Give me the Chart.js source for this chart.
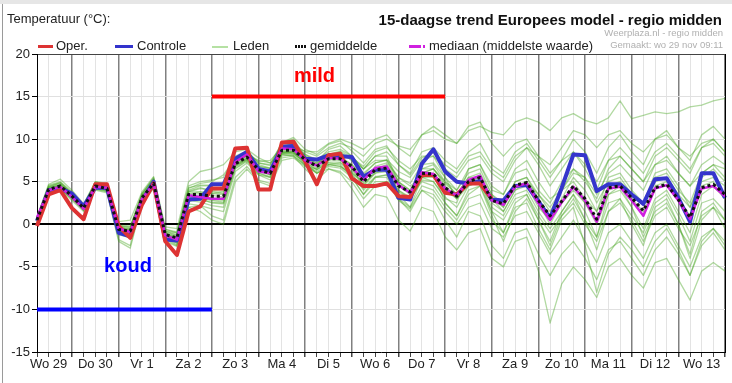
<!DOCTYPE html>
<html lang="nl">
<head>
<meta charset="UTF-8">
<title>15-daagse trend Europees model - regio midden</title>
<script src="https://cdn.jsdelivr.net/npm/chart.js"></script>
<style>
    body { margin: 0; background: #fff; font-family: "Liberation Sans", Arial, sans-serif; }
    .kader { position: relative; width: 732px; height: 383px; overflow: hidden; }
    .balk { position: absolute; left: 0; top: 0; width: 732px; height: 4px; background: #e6e6e6; }
    .rand { position: absolute; left: 2px; top: 4px; width: 1px; height: 379px; background: #9a9a9a; }
    #grafiek { position: absolute; left: 0; top: 0; }
    .txt { position: absolute; white-space: nowrap; color: #222; }
    .titelLinks { left: 7px; top: 11px; font-size: 13px; line-height: 16px; }
    .titel { right: 10px; top: 11px; font-size: 15px; line-height: 18px; font-weight: bold; color: #111; }
    .bron { right: 9px; font-size: 9.5px; line-height: 12px; color: #b0b0b0; }
    .leg { top: 38px; font-size: 13px; line-height: 16px; }
    .lijn { position: absolute; top: 45px; height: 3px; }
</style>
</head>
<body>
<div class="kader">
    <div class="balk"></div>
    <div class="rand"></div>
    <canvas id="grafiek" width="732" height="383"></canvas>

    <div class="txt titelLinks">Temperatuur (°C):</div>
    <div class="txt titel">15-daagse trend Europees model - regio midden</div>
    <div class="txt bron" style="top:27px">Weerplaza.nl - regio midden</div>
    <div class="txt bron" style="top:39px">Gemaakt: wo 29 nov 09:11</div>

    <div class="lijn" style="left:38px;width:15px;background:#dd3333"></div>
    <div class="txt leg" style="left:56px">Oper.</div>
    <div class="lijn" style="left:115px;width:18px;background:#3333cc"></div>
    <div class="txt leg" style="left:137px">Controle</div>
    <div class="lijn" style="left:212px;width:16px;top:46px;height:1.5px;background:#b5e1a3"></div>
    <div class="txt leg" style="left:233px">Leden</div>
    <div class="lijn" style="left:295px;width:11px;background:repeating-linear-gradient(90deg,#111 0 2px,transparent 2px 3px)"></div>
    <div class="txt leg" style="left:310px">gemiddelde</div>
    <div class="lijn" style="left:409px;width:12px;background:#d020e0"></div>
    <div class="lijn" style="left:423px;width:2px;background:#d020e0"></div>
    <div class="txt leg" style="left:429px">mediaan (middelste waarde)</div>
</div>

<script>
    // dagen (label op 12 uur), punten elke 6 uur vanaf wo 29 06:00
    const dagLabels = ['Wo 29', 'Do 30', 'Vr 1', 'Za 2', 'Zo 3', 'Ma 4', 'Di 5', 'Wo 6',
                       'Do 7', 'Vr 8', 'Za 9', 'Zo 10', 'Ma 11', 'Di 12', 'Wo 13']
    const aantalPunten = 60

    const oper = [-0.2, 3.5, 4.0,
        1.9, 0.6, 4.7, 4.7,
        -0.2, -1.6, 2.3, 4.8,
        -2.0, -3.6, 1.5, 2.1,
        4.2, 4.2, 8.9, 9.0,
        4.1, 4.1, 9.6, 9.7,
        7.4, 4.7, 8.1, 8.3,
        5.4, 4.5, 4.5, 4.8,
        3.3, 3.2, 5.8, 5.8,
        3.7, 3.5, 4.8, 4.8,
        3.0]

    const controle = [0.4, 4.0, 4.2,
        3.6, 2.1, 4.3, 4.3,
        -1.0, -1.4, 2.7, 5.0,
        -1.8, -1.9, 2.9, 3.0,
        4.7, 4.7, 7.7, 8.5,
        6.5, 6.2, 9.1, 9.2,
        7.7, 7.6, 8.1, 8.0,
        7.9, 5.6, 6.4, 6.4,
        3.1, 2.9, 7.1, 8.8,
        6.2, 5.0, 4.8, 5.1,
        2.9, 2.8, 4.5, 4.6,
        2.7, 0.7, 4.3, 8.2,
        8.1, 3.9, 4.7, 4.7,
        3.5, 2.4, 5.3, 5.4,
        3.1, 0.3, 6.0, 6.0,
        3.1]

    const gemiddelde = [0.5, 4.1, 4.5,
        3.3, 1.9, 4.5, 4.2,
        -0.6, -0.8, 3.1, 4.8,
        -1.2, -1.6, 3.5, 3.5,
        3.3, 3.3, 7.1, 7.9,
        6.4, 6.0, 8.7, 8.7,
        7.6, 6.8, 7.7, 7.7,
        6.8, 5.0, 6.4, 6.6,
        4.5, 3.8, 6.0, 5.9,
        4.3, 3.3, 5.0, 5.5,
        2.8, 2.4, 4.6, 4.9,
        2.8, 1.0, 2.7, 4.5,
        3.0, 0.6, 4.3, 4.5,
        3.1, 1.6, 4.3, 4.7,
        2.9, 0.8, 4.3, 4.7,
        3.5]

    const mediaan = [0.8, 4.0, 4.4,
        3.2, 1.8, 4.4, 4.3,
        -0.5, -0.9, 3.0, 4.7,
        -1.3, -1.8, 3.4, 3.2,
        3.0, 3.0, 7.3, 8.2,
        6.2, 6.0, 8.9, 8.8,
        7.5, 6.9, 7.8, 7.7,
        6.7, 5.2, 6.6, 6.8,
        4.6, 3.7, 6.1, 5.9,
        4.2, 3.4, 5.2, 5.7,
        2.8, 2.3, 4.4, 4.8,
        2.5, 0.5, 2.6, 4.4,
        2.8, 0.3, 4.2, 4.4,
        2.8, 1.0, 4.2, 4.6,
        2.8, 0.6, 4.2, 4.5,
        3.3]

    const leden = [
        [0.8, 4.6, 5.0, 3.8, 2.2, 5.0, 4.6, -0.2, -0.4, 3.6, 5.4, -0.6, -1.0, 4.5, 5.0,
         5.2, 5.5, 8.0, 8.6, 7.2, 7.0, 9.3, 9.4, 8.5, 8.0, 9.0, 9.5, 9.0, 8.0, 9.5, 10.0,
         9.2, 8.8, 10.5, 11.0, 10.0, 9.5, 11.0, 11.5, 10.8, 10.5, 12.0, 12.5, 12.0, 11.0, 12.5, 13.0,
         12.2, 11.8, 12.5, 14.5, 12.4, 12.8, 13.2, 13.0, 13.2, 13.8, 14.0, 14.5, 14.8],
        [0.2, 3.6, 4.0, 2.8, 1.5, 4.0, 3.7, -2.0, -2.8, 2.5, 4.2, -2.0, -2.6, 2.0, 2.2,
         1.0, 0.5, 5.5, 6.8, 5.2, 4.8, 7.8, 8.0, 6.5, 5.2, 6.5, 6.0, 4.2, 2.0, 3.5, 3.2,
         0.5, -0.8, 2.0, 1.5, -1.5, -3.0, -1.0, -0.5, -4.0, -5.0, -2.0, -1.5, -5.5, -11.6, -7.0, -5.0,
         -6.5, -8.6, -5.0, -4.0, -6.0, -7.5, -4.5, -4.0, -6.5, -8.9, -5.5, -4.5, -5.5],
        [0.6, 4.4, 4.8, 3.6, 2.0, 4.8, 4.5, -0.3, -0.5, 3.4, 5.2, -0.8, -1.2, 4.0, 4.5,
         4.5, 4.8, 7.6, 8.4, 7.0, 6.6, 9.2, 9.4, 8.2, 7.4, 8.8, 9.2, 8.0, 6.5, 8.0, 8.5,
         7.0, 6.0, 8.5, 9.0, 7.5, 6.5, 8.5, 9.5, 7.0, 6.0, 8.5, 9.5, 7.5, 5.5, 7.5, 10.0,
         8.5, 6.0, 9.0, 10.5, 8.5, 7.0, 10.0, 11.0, 9.0, 7.5, 10.5, 11.5, 10.0],
        [0.3, 3.8, 4.2, 3.0, 1.6, 4.2, 3.9, -0.9, -1.2, 2.8, 4.4, -1.6, -2.2, 2.8, 2.6,
         2.2, 2.0, 6.5, 7.4, 5.8, 5.2, 8.2, 8.1, 6.9, 6.0, 6.8, 6.6, 5.5, 3.5, 5.0, 5.0,
         2.8, 1.8, 4.0, 3.5, 1.5, 0.0, 2.0, 2.5, -0.5, -1.5, 1.0, 1.5, -1.0, -3.5, -1.5, 0.5,
         -2.0, -4.5, -1.0, 0.0, -2.0, -4.0, -1.0, 0.0, -2.5, -5.0, -1.5, -0.5, -2.5],
        [0.5, 4.2, 4.6, 3.4, 2.0, 4.6, 4.1, -0.5, -0.7, 3.2, 4.9, -1.0, -1.4, 3.8, 3.8,
         3.6, 3.5, 7.2, 8.0, 6.6, 6.2, 8.8, 8.9, 7.8, 7.2, 8.2, 8.4, 7.5, 6.0, 7.2, 7.5,
         5.5, 4.8, 7.0, 7.2, 5.5, 4.0, 6.0, 6.5, 3.5, 2.5, 5.0, 5.5, 3.0, 1.0, 3.0, 5.5,
         4.0, 1.5, 5.5, 6.0, 4.0, 2.5, 6.0, 6.5, 4.5, 2.0, 5.5, 6.5, 5.0],
        [0.7, 4.0, 4.3, 3.1, 1.8, 4.3, 4.0, -0.8, -1.0, 3.0, 4.6, -1.4, -1.9, 3.0, 3.0,
         2.8, 2.6, 6.8, 7.6, 6.0, 5.6, 8.4, 8.4, 7.0, 6.2, 7.0, 6.8, 5.8, 4.2, 5.6, 5.8,
         3.8, 3.0, 5.2, 5.0, 3.2, 2.0, 4.5, 5.0, 2.0, 1.0, 3.5, 4.0, 1.5, -0.5, 1.5, 3.5,
         1.5, -1.5, 2.5, 3.0, 1.0, -1.0, 2.5, 3.5, 1.0, -2.0, 2.5, 3.0, 1.5],
        [0.4, 4.3, 4.7, 3.5, 2.1, 4.7, 4.4, -0.4, -0.6, 3.3, 5.0, -0.9, -1.3, 4.2, 4.8,
         5.0, 5.8, 7.8, 8.2, 7.4, 7.5, 9.0, 9.0, 8.6, 8.5, 9.5, 10.0, 9.5, 8.8, 10.0, 10.5,
         9.0, 8.0, 10.5, 11.5, 10.5, 9.5, 11.5, 12.0, 9.5, 8.0, 9.5, 10.0, 8.0, 6.0, 7.5, 8.5,
         7.0, 5.0, 7.5, 8.0, 6.5, 5.0, 7.0, 7.5, 6.0, 4.5, 7.0, 8.0, 7.0],
        [0.5, 4.0, 4.4, 3.2, 1.9, 4.4, 4.2, -0.7, -0.9, 3.1, 4.8, -1.3, -1.7, 3.2, 3.0,
         2.5, 2.4, 6.6, 7.5, 6.0, 5.5, 8.3, 8.5, 7.2, 6.4, 7.2, 7.0, 5.5, 3.5, 5.5, 5.5,
         3.0, 1.5, 4.0, 3.0, 0.5, -1.5, 1.5, 1.0, -2.5, -4.0, -1.0, -0.5, -3.5, -6.0, -3.5, -2.0,
         -4.0, -6.5, -3.0, -2.0, -4.0, -6.0, -3.0, -1.5, -3.5, -6.0, -2.5, -1.0, -3.0],
        [0.2, 3.9, 4.3, 3.2, 1.8, 4.3, 4.0, -1.8, -2.5, 2.6, 4.3, -1.8, -2.5, 2.0, 1.5,
         0.5, 0.0, 5.0, 6.5, 5.0, 4.5, 7.5, 7.8, 6.8, 6.5, 7.5, 8.0, 7.0, 5.5, 6.5, 7.0,
         5.0, 4.0, 6.0, 6.5, 4.8, 3.5, 5.5, 6.0, 3.5, 2.0, 4.5, 5.0, 3.5, 2.0, 4.0, 5.0,
         3.0, 1.5, 4.5, 5.0, 3.5, 2.5, 5.0, 5.5, 3.5, 2.0, 5.0, 5.5, 4.5],
        [0.9, 4.7, 5.3, 4.0, 2.4, 5.0, 4.8, 0.3, 0.5, 3.8, 5.6, -0.3, -0.5, 5.0, 6.2,
         6.5, 7.0, 8.5, 8.8, 7.8, 7.2, 9.5, 10.0, 8.0, 7.0, 8.0, 8.5, 7.5, 6.5, 8.0, 8.0,
         5.0, 3.5, 6.0, 6.5, 4.5, 3.0, 5.0, 5.5, 3.0, 1.5, 4.0, 5.0, 2.5, 0.0, 2.5, 4.5,
         2.5, 0.0, 3.5, 4.5, 2.0, -0.5, 3.0, 4.0, 1.5, -1.0, 3.5, 4.5, 3.0],
        [0.6, 4.1, 4.5, 3.3, 1.9, 4.5, 4.3, -0.6, -0.8, 3.1, 4.8, -1.1, -1.5, 3.6, 3.8,
         3.6, 3.8, 7.0, 7.8, 6.6, 6.2, 8.6, 8.6, 7.6, 7.0, 7.8, 7.8, 7.0, 5.8, 7.2, 7.6,
         6.2, 5.5, 7.5, 8.0, 6.5, 5.5, 7.5, 8.0, 6.0, 5.0, 7.5, 9.0, 8.0, 7.0, 9.0, 11.0,
         10.5, 9.0, 10.5, 11.0, 9.5, 8.5, 10.0, 10.5, 9.0, 8.0, 9.5, 10.0, 8.5],
        [0.4, 4.0, 4.4, 3.2, 1.8, 4.4, 4.1, -0.7, -1.0, 2.9, 4.6, -1.5, -2.0, 3.0, 2.8,
         2.6, 2.5, 6.8, 7.6, 6.2, 5.8, 8.4, 8.4, 7.2, 6.0, 7.0, 7.2, 6.0, 4.0, 5.5, 5.8,
         3.0, 2.0, 4.5, 4.0, 2.0, 0.5, 3.0, 3.5, 0.5, -1.0, 2.0, 2.5, -0.5, -3.0, 0.5, 2.0,
         -2.5, -8.0, -3.5, -1.5, -3.0, -5.0, -2.0, -0.5, -3.0, -6.0, -2.0, -0.5, -2.0],
        [0.5, 4.3, 4.6, 3.3, 1.9, 4.6, 4.3, -0.5, -0.7, 3.2, 4.9, -1.2, -1.6, 3.5, 3.6,
         3.4, 3.2, 7.2, 8.0, 6.4, 6.0, 8.7, 8.8, 7.8, 7.2, 8.0, 7.8, 6.6, 4.8, 6.0, 6.2,
         4.0, 3.2, 5.5, 5.5, 4.0, 3.0, 5.0, 5.5, 2.5, 1.5, 4.0, 4.5, 2.0, 0.5, 2.5, 4.0,
         2.5, 0.5, 4.0, 4.5, 3.0, 1.5, 4.5, 5.0, 3.0, 1.0, 4.5, 5.0, 3.5],
        [0.6, 4.2, 4.5, 3.4, 2.0, 4.5, 4.2, -0.6, -0.8, 3.0, 4.7, -1.2, -1.6, 3.3, 3.2,
         3.0, 3.0, 7.0, 7.8, 6.4, 5.8, 8.6, 8.6, 7.4, 6.6, 7.6, 7.5, 6.5, 4.5, 6.0, 6.5,
         4.5, 3.5, 6.5, 7.0, 5.0, 4.0, 6.5, 7.0, 4.5, 3.5, 6.0, 6.5, 4.0, 2.5, 5.0, 6.5,
         5.0, 3.0, 6.5, 8.0, 6.5, 5.0, 8.0, 9.0, 7.5, 6.0, 9.0, 10.0, 8.5],
        [0.3, 3.7, 4.1, 3.0, 1.7, 4.1, 3.8, -1.2, -1.6, 2.6, 4.4, -1.6, -2.2, 2.4, 2.2,
         1.8, 1.5, 6.2, 7.2, 5.8, 5.5, 8.0, 8.2, 7.4, 7.0, 8.2, 8.6, 7.8, 6.8, 8.5, 9.0,
         7.5, 6.5, 8.0, 8.0, 5.5, 3.0, 4.5, 5.0, 1.5, -1.0, 2.5, 3.5, 0.5, -2.5, 1.0, 3.0,
         0.5, -3.0, 1.5, 3.0, 0.0, -2.5, 2.0, 3.0, 0.0, -3.5, 1.5, 2.5, 0.5],
        [0.7, 4.5, 4.9, 3.7, 2.2, 4.9, 4.6, -0.1, -0.2, 3.6, 5.3, -0.6, -0.9, 4.3, 4.6,
         4.6, 4.6, 7.8, 8.6, 7.2, 6.9, 9.6, 10.2, 8.8, 8.2, 9.4, 9.8, 8.6, 7.2, 8.8, 9.2,
         7.0, 5.8, 7.8, 8.4, 7.0, 6.0, 8.0, 8.5, 6.5, 5.5, 8.0, 9.0, 7.0, 4.5, 6.5, 8.5,
         6.5, 4.0, 7.5, 9.0, 7.5, 6.0, 8.5, 9.5, 8.0, 6.5, 9.0, 9.5, 8.0],
        [0.4, 4.4, 4.9, 3.5, 2.3, 4.8, 4.5, -0.9, -1.3, 3.5, 5.5, -1.0, -1.8, 3.8, 4.2,
         4.0, 4.2, 7.5, 8.2, 7.5, 7.2, 8.4, 8.3, 8.0, 7.5, 7.0, 6.8, 6.0, 5.0, 6.8, 7.2,
         5.5, 4.5, 5.5, 5.0, 3.0, 2.5, 6.5, 7.0, 4.0, 3.5, 6.5, 7.5, 5.0, 3.0, 4.0, 6.0,
         5.5, 3.5, 6.0, 7.0, 5.5, 4.0, 7.0, 8.0, 6.0, 4.5, 6.0, 7.0, 6.5],
        [0.6, 3.9, 4.2, 3.0, 1.7, 4.2, 3.9, -0.4, -0.6, 2.8, 4.5, -1.6, -2.4, 2.6, 3.4,
         3.8, 3.6, 7.4, 8.2, 6.8, 6.5, 8.2, 8.0, 7.0, 6.0, 6.5, 6.2, 5.0, 3.0, 4.5, 5.0,
         3.5, 2.0, 5.5, 6.0, 2.5, 1.0, 3.5, 4.5, 1.0, -2.0, 1.5, 3.0, 0.5, -2.0, 1.5, 3.5,
         0.5, -1.5, 3.5, 4.0, 2.0, -1.5, 1.5, 2.5, 0.0, -4.0, 0.5, 2.0, -0.5],
        [0.5, 4.0, 4.6, 3.6, 2.2, 4.7, 4.4, -0.2, -0.3, 3.4, 4.9, -0.8, -1.0, 3.9, 4.3,
         3.9, 3.9, 7.3, 8.1, 6.8, 6.6, 8.9, 9.1, 8.2, 7.6, 8.5, 8.8, 8.0, 6.5, 7.5, 7.5,
         5.0, 4.0, 6.5, 6.5, 5.0, 3.5, 5.5, 5.5, 3.0, 2.0, 5.0, 5.5, 3.5, 1.5, 4.0, 6.5,
         5.5, 2.5, 5.0, 5.5, 3.5, 2.5, 5.5, 6.0, 4.0, 2.5, 6.0, 7.0, 5.5],
        [0.3, 4.2, 4.4, 3.2, 1.7, 4.4, 4.1, -0.9, -1.1, 3.0, 4.7, -1.3, -1.8, 3.0, 3.1,
         2.9, 2.8, 6.9, 7.7, 6.3, 5.9, 8.5, 8.6, 7.3, 6.4, 7.3, 7.3, 6.2, 4.6, 6.2, 6.5,
         4.0, 3.0, 5.0, 4.5, 2.5, 1.0, 4.0, 4.5, 1.5, 0.5, 3.0, 3.5, 1.0, -1.0, 1.0, 2.5,
         0.0, -2.0, 1.5, 2.5, 0.5, -2.0, 1.0, 2.0, -0.5, -2.5, 1.0, 2.0, 0.5]
    ]

    // trend-balken: mild (15 graden) en koud (-10 graden), als punt-index van/tot
    const mildBalk = { van: 15, tot: 35, waarde: 15 }
    const koudBalk = { van: 0, tot: 15, waarde: -10 }
    const mildTekst = { x: 23.8, y: 17.4 }
    const koudTekst = { x: 7.8, y: -4.9 }

    const tijdLabels = []
    for (let i = 0; i < aantalPunten; i++) {
        tijdLabels.push(i % 4 === 1 ? dagLabels[(i - 1) / 4] : '')
    }

    function balkData(balk) {
        const data = []
        for (let i = 0; i < aantalPunten; i++) {
            data.push(i >= balk.van && i <= balk.tot ? balk.waarde : null)
        }
        return data
    }

    const fontNaam = '"Liberation Sans", Arial, sans-serif'
    Chart.defaults.font.family = fontNaam

    const datasets = []
    datasets.push({ data: gemiddelde, borderColor: '#111', borderWidth: 3, borderDash: [3, 3], order: 0 })
    datasets.push({ data: mediaan, borderColor: '#d020e0', borderWidth: 2.5, order: 1 })
    datasets.push({ data: oper, borderColor: '#dd3333', borderWidth: 4, order: 2 })
    datasets.push({ data: controle, borderColor: '#3535cc', borderWidth: 4, order: 3 })
    datasets.push({ data: balkData(mildBalk), borderColor: '#ff0000', borderWidth: 4, order: 4 })
    datasets.push({ data: balkData(koudBalk), borderColor: '#0000ff', borderWidth: 4, order: 4 })
    for (let i = 0; i < leden.length; i++) {
        datasets.push({ data: leden[i], borderColor: 'rgba(70,165,30,0.42)', borderWidth: 1.3, order: 10 })
    }

    const tekstPlugin = {
        id: 'teksten',
        afterDatasetsDraw(chart) {
            const ctx = chart.ctx
            const area = chart.chartArea
            const x = chart.scales.x
            const y = chart.scales.y
            ctx.save()
            ctx.strokeStyle = '#000'
            ctx.lineWidth = 1
            ctx.beginPath()
            ctx.moveTo(area.right + 0.5, area.top)
            ctx.lineTo(area.right + 0.5, area.bottom)
            ctx.stroke()

            ctx.font = 'bold 20px ' + fontNaam
            ctx.textAlign = 'center'
            ctx.textBaseline = 'middle'
            ctx.fillStyle = '#ff0000'
            ctx.fillText('mild', x.getPixelForValue(mildTekst.x), y.getPixelForValue(mildTekst.y))
            ctx.fillStyle = '#0000ff'
            ctx.fillText('koud', x.getPixelForValue(koudTekst.x), y.getPixelForValue(koudTekst.y))
            ctx.restore()
        }
    }

    new Chart(document.getElementById('grafiek'), {
        type: 'line',
        data: { labels: tijdLabels, datasets: datasets },
        options: {
            responsive: false,
            animation: false,
            devicePixelRatio: 1,
            layout: { padding: { top: 54, right: 7, bottom: 0, left: 0 } },
            elements: {
                point: { radius: 0 },
                line: { tension: 0, borderJoinStyle: 'round' }
            },
            plugins: { legend: { display: false }, tooltip: { enabled: false } },
            scales: {
                x: {
                    type: 'category',
                    offset: false,
                    grid: {
                        offset: false,
                        color: (c) => c.index % 4 === 3 ? '#808080' : '#e3e3e3',
                        lineWidth: (c) => c.index % 4 === 3 ? 1.5 : 1,
                        tickLength: 5,
                        tickColor: '#444'
                    },
                    border: { color: '#000', width: 1 },
                    ticks: {
                        autoSkip: false,
                        maxRotation: 0,
                        minRotation: 0,
                        padding: 0,
                        color: '#222',
                        font: { size: 13 },
                        callback: (v, i) => tijdLabels[i]
                    },
                    afterFit: (s) => { s.height = 31 }
                },
                y: {
                    min: -15,
                    max: 20,
                    grid: {
                        color: (c) => c.tick.value === 0 ? '#000' : (c.tick.value === 20 ? '#444' : '#e0e0e0'),
                        lineWidth: (c) => c.tick.value === 0 ? 2 : 1,
                        tickLength: 5,
                        tickColor: '#000'
                    },
                    border: { color: '#000', width: 1 },
                    ticks: { stepSize: 5, padding: 2, color: '#222', font: { size: 13 } },
                    afterFit: (s) => { s.width = 37 }
                }
            }
        },
        plugins: [tekstPlugin]
    })
</script>
</body>
</html>
